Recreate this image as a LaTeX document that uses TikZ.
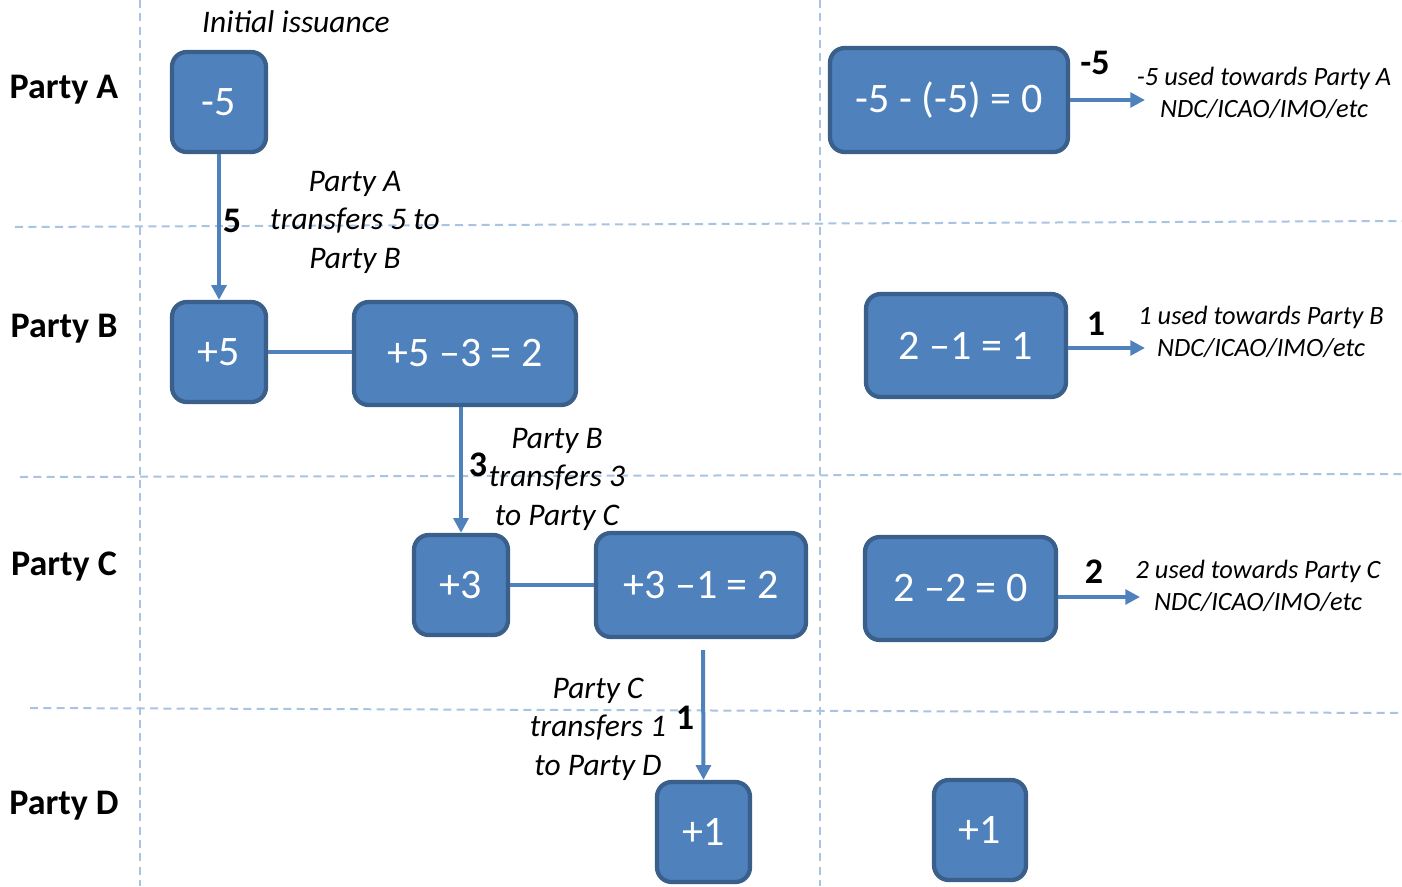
\documentclass[tikz,border=0pt]{standalone}
\usepackage{fontspec}
\setmainfont{Carlito}
\usetikzlibrary{arrows.meta,calc}
\definecolor{boxfill}{HTML}{4F81BD}
\definecolor{boxline}{HTML}{3A5F8B}
\definecolor{grid}{HTML}{A9C3E2}
\tikzset{
  box/.style={draw=boxline, line width=3.2pt, fill=boxfill, rounded corners=11pt,
    text=white, font=\fontsize{31.5}{36}\selectfont, inner sep=0pt},
  gridline/.style={draw=grid, line width=1.5pt, dash pattern=on 6pt off 4pt},
  arr/.style={draw=boxfill, line width=3pt, -{Triangle[length=11pt,width=11pt]}},
  link/.style={draw=boxfill, line width=3pt},
  party/.style={font=\bfseries\fontsize{27}{32}\selectfont, inner sep=0pt},
  num/.style={font=\bfseries\fontsize{27}{32}\selectfont, inner sep=0pt},
  note/.style={font=\itshape\fontsize{23.6}{28.9}\selectfont, align=center, inner sep=0pt},
  usenote/.style={font=\itshape\fontsize{19.8}{24}\selectfont, align=center, inner sep=0pt}
}
\begin{document}
\begin{tikzpicture}[x=0.75pt,y=-0.75pt]
\useasboundingbox (0,0) rectangle (1402,886);
% grid
\coordinate (v1t) at (140,0); \coordinate (v1b) at (140,886);
\coordinate (v2t) at (820,0); \coordinate (v2b) at (820,886);
\coordinate (h1l) at (15,227); \coordinate (h1r) at (1402,221);
\coordinate (h2l) at (20,477); \coordinate (h2r) at (1402,474);
\coordinate (h3l) at (30,708); \coordinate (h3r) at (1402,713);
\draw[gridline] (v1t) -- (v1b);
\draw[gridline] (v2t) -- (v2b);
\draw[gridline] (h1l) -- (h1r);
\draw[gridline] (h2l) -- (h2r);
\draw[gridline] (h3l) -- (h3r);
% party labels
\node[party] (pa) at (64,90) {Party A};
\node[party] (pb) at (64,329) {Party B};
\node[party] (pc) at (64,567) {Party C};
\node[party] (pd) at (64,806) {Party D};
\node[note] (init) at (296,22) {Initial issuance};
% boxes
\node[box, minimum width=70.5pt, minimum height=75pt] (A1) at (219,102) {-5};
\node[box, minimum width=178.5pt, minimum height=78pt] (A2) at (949,100) {-5 - (-5) = 0};
\node[box, minimum width=70.5pt, minimum height=75pt] (B1) at (219,352) {+5};
\node[box, minimum width=166.5pt, minimum height=77.25pt] (B2) at (465,353.5) {+5 –3 = 2};
\node[box, minimum width=150pt, minimum height=77.25pt] (B3) at (966,345.5) {2 –1 = 1};
\node[box, minimum width=70.5pt, minimum height=75pt] (C1) at (461,585) {+3};
\node[box, minimum width=157.5pt, minimum height=78pt] (C2) at (701,585) {+3 –1 = 2};
\node[box, minimum width=143.25pt, minimum height=77.25pt] (C3) at (960.5,588.5) {2 –2 = 0};
\node[box, minimum width=69.75pt, minimum height=75pt] (D1) at (703.5,832) {+1};
\node[box, minimum width=69pt, minimum height=75pt] (D2) at (980,830) {+1};
% connectors
\draw[arr] (A1.south) -- (B1.north);
\draw[link] (B1.east) -- (B1.east -| B2.west);
\draw[arr] (B2.south -| C1.north) -- (C1.north);
\draw[link] (C1.east) -- (C1.east -| C2.west);
\coordinate (c2start) at ($(C2.south)+(2,11)$);
\draw[arr] (c2start) -- (D1.north);
\coordinate (a2end) at (1145,100);
\draw[arr] (A2.east |- a2end) -- (a2end);
\coordinate (b3end) at (1145,348);
\draw[arr] (B3.east |- b3end) -- (b3end);
\coordinate (c3end) at (1140,597);
\draw[arr] (C3.east |- c3end) -- (c3end);
% numbers
\node[num] (n5) at (232,221) {5};
\node[num] (n3) at (478,465) {3};
\node[num] (n1) at (685,718) {1};
\node[num] (m5) at (1095,63) {-5};
\node[num] (m1) at (1096,324) {1};
\node[num] (m2) at (1094,572) {2};
% notes
\node[note] (tA) at (355,222) {Party A\\transfers 5 to\\Party B};
\node[note] (tB) at (557,479) {Party B\\transfers 3\\to Party C};
\node[note] (tC) at (598,729) {Party C\\transfers 1\\to Party D};
\node[usenote] (uA) at (1264,93) {-5 used towards Party A\\NDC/ICAO/IMO/etc};
\node[usenote] (uB) at (1261,332) {1 used towards Party B\\NDC/ICAO/IMO/etc};
\node[usenote] (uC) at (1258,586) {2 used towards Party C\\NDC/ICAO/IMO/etc};
\end{tikzpicture}
\end{document}
